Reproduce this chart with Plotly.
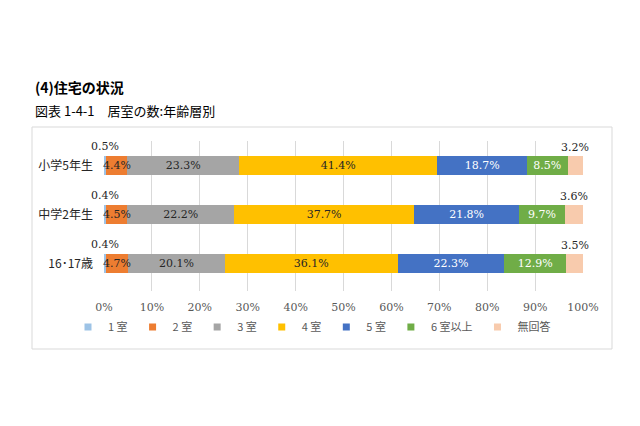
import plotly.graph_objects as go
import numpy as np

categories = ["小学5年生", "中学2年生", "16･17歳"]
series_names = ["1 室", "2 室", "3 室", "4 室", "5 室", "6 室以上", "無回答"]
room1 = [0.5, 0.4, 0.4]
room2 = [4.4, 4.5, 4.7]
room3 = [23.3, 22.2, 20.1]
room4 = [41.4, 37.7, 36.1]
room5 = [18.7, 21.8, 22.3]
room6plus = [8.5, 9.7, 12.9]
no_answer = [3.2, 3.6, 3.5]
x_ticks = list(range(0, 101, 10))
tick_labels = [f"{t}%" for t in x_ticks]
title1 = "(4)住宅の状況"
title2 = "図表 1-4-1　居室の数:年齢層別"

series = [room1, room2, room3, room4, room5, room6plus, no_answer]
colors = ["#9DC3E6", "#ED7D31", "#A5A5A5", "#FFC000", "#4472C4", "#70AD47", "#F8CBAD"]
text_colors = ["#262626", "#262626", "#262626", "#262626", "#FFFFFF", "#FFFFFF", "#262626"]
# label placement per series: "above" (outside, above bar), "over" (centred, drawn on top), "inside"
label_mode = ["above", "over", "inside", "inside", "inside", "inside", "above"]

NUM_FONT = "DejaVu Serif"
JP_FONT = "Noto Sans CJK JP"

# pixel layout helpers
W, H = 640, 426
L, R, T, B = 104, 57, 141, 135
pw, ph = W - L - R, H - T - B


def px_x(px):
    return (px - L) / pw


def px_y(py):
    return 1 - (py - T) / ph


fig = go.Figure()
for name, vals, col, tcol, mode in zip(series_names, series, colors, text_colors, label_mode):
    ins = mode == "inside"
    fig.add_trace(go.Bar(
        y=categories, x=vals, name=name, orientation="h",
        marker=dict(color=col, line=dict(width=0)),
        text=[f"{v:.1f}%" for v in vals] if ins else None,
        textposition="inside" if ins else "none",
        insidetextanchor="middle",
        textangle=0,
        constraintext="none",
        textfont=dict(family=NUM_FONT, size=11, color=tcol),
        showlegend=False,
        hoverinfo="x+name",
    ))

# legend proxies with small square markers
for name, col in zip(series_names, colors):
    fig.add_trace(go.Scatter(
        x=[None], y=[None], mode="markers", name=name,
        marker=dict(symbol="square", size=7, color=col),
        showlegend=True,
    ))

# labels drawn as annotations (outside or overflowing segments)
arr = np.array(series)
cum = np.cumsum(arr, axis=0)
annotations = []
for i, mode in enumerate(label_mode):
    if mode == "inside":
        continue
    for j, cat in enumerate(categories):
        annotations.append(dict(
            x=cum[i, j] - arr[i, j] / 2, y=cat, xref="x", yref="y",
            text=f"{arr[i, j]:.1f}%", showarrow=False,
            yshift=(19 if i == 0 else 18) if mode == "above" else 0,
            font=dict(family=NUM_FONT, size=11, color=text_colors[i]),
        ))

annotations.append(dict(
    x=px_x(33), y=px_y(87), xref="paper", yref="paper", xanchor="left", yanchor="middle",
    text=f"<b>{title1}</b>", showarrow=False,
    font=dict(family=JP_FONT, size=14, color="#000000"),
))
annotations.append(dict(
    x=px_x(33), y=px_y(110), xref="paper", yref="paper", xanchor="left", yanchor="middle",
    text=title2, showarrow=False,
    font=dict(family=JP_FONT, size=13, color="#000000"),
))

fig.update_layout(
    width=W, height=H,
    margin=dict(l=L, r=R, t=T, b=B, autoexpand=False),
    barmode="stack",
    bargap=0.6,
    paper_bgcolor="#FFFFFF",
    plot_bgcolor="#FFFFFF",
    annotations=annotations,
    shapes=[dict(
        type="rect", xref="paper", yref="paper",
        x0=px_x(32), x1=px_x(612), y0=px_y(349), y1=px_y(127),
        line=dict(color="#D9D9D9", width=1), fillcolor="rgba(0,0,0,0)", layer="below",
    )],
    xaxis=dict(
        range=[0, 100], tickvals=x_ticks, ticktext=tick_labels,
        showgrid=True, gridcolor="#D9D9D9", gridwidth=1,
        zeroline=False, showline=False, ticks="",
        tickfont=dict(family=NUM_FONT, size=11, color="#595959"),
        ticklabelstandoff=8,
        fixedrange=True,
    ),
    yaxis=dict(
        autorange="reversed", showgrid=False, zeroline=False, showline=False, ticks="",
        tickfont=dict(family=JP_FONT, size=12, color="#262626"),
        ticklabelstandoff=10,
        fixedrange=True,
    ),
    legend=dict(
        orientation="h",
        x=px_x(68), xanchor="left", y=px_y(327), yanchor="middle",
        font=dict(family=JP_FONT, size=11, color="#595959"),
        itemwidth=30, tracegroupgap=0, bgcolor="rgba(0,0,0,0)",
        traceorder="normal",
    ),
    showlegend=True,
)

fig.write_html("out.html")
